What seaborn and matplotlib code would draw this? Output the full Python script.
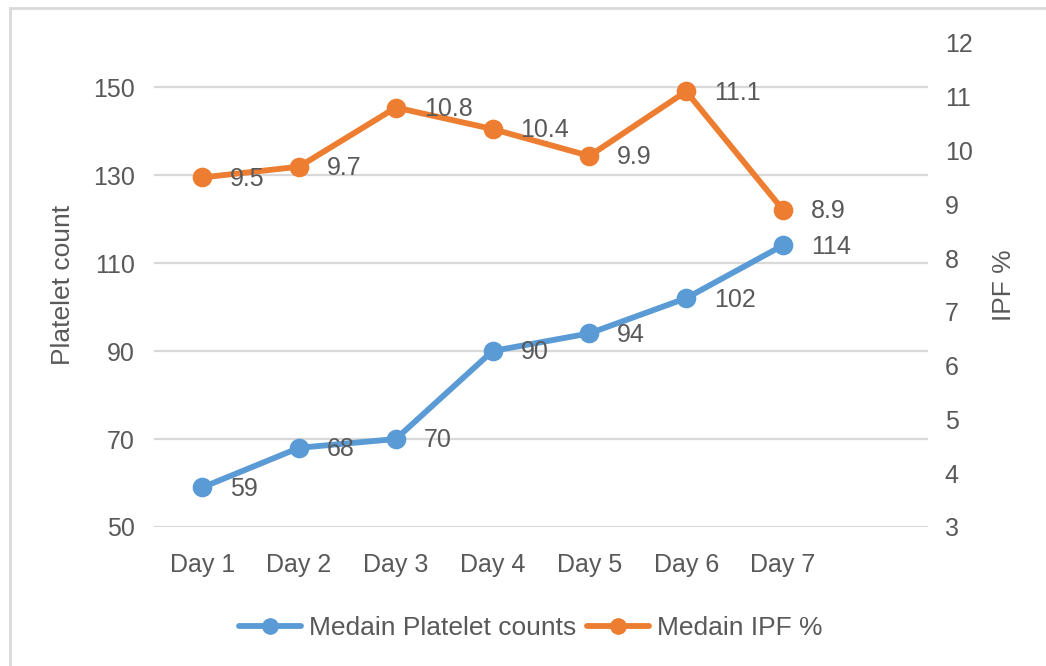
import matplotlib
matplotlib.use("Agg")
import matplotlib.pyplot as plt
import seaborn as sns
from matplotlib.lines import Line2D
from matplotlib.patches import Rectangle

# Data
days = ["Day 1", "Day 2", "Day 3", "Day 4", "Day 5", "Day 6", "Day 7"]
platelet_counts = [59, 68, 70, 90, 94, 102, 114]
ipf_percent = [9.5, 9.7, 10.8, 10.4, 9.9, 11.1, 8.9]
platelet_ticks = [50, 70, 90, 110, 130, 150]
ipf_ticks = [3, 4, 5, 6, 7, 8, 9, 10, 11, 12]

BLUE = "#5B9BD5"
ORANGE = "#ED7D31"
TEXT = "#595959"
GRID = "#D9D9D9"
FS = 18

sns.set_theme(style="white")
plt.rcParams["font.family"] = ["Liberation Sans", "DejaVu Sans"]

fig = plt.figure(figsize=(10.46, 6.66), dpi=100)
ax = fig.add_axes([154 / 1046, 1 - 527 / 666, (928 - 154) / 1046, (527 - 43) / 666])
ax2 = ax.twinx()

# Outer chart frame
fig.patches.append(Rectangle((10 / 1046, -0.05), 1.1, 1 - 8 / 666 + 0.05,
                             transform=fig.transFigure, fill=False,
                             edgecolor="#D9D9D9", linewidth=2, zorder=0))

sns.pointplot(x=days, y=platelet_counts, ax=ax, color=BLUE, markers="o",
              linestyles="-", markersize=11, linewidth=4.2, errorbar=None)
sns.pointplot(x=days, y=ipf_percent, ax=ax2, color=ORANGE, markers="o",
              linestyles="-", markersize=11, linewidth=4.2, errorbar=None)

for i, v in enumerate(platelet_counts):
    ax.annotate(f"{v}", (i, v), xytext=(20, -1), textcoords="offset points",
                ha="left", va="center", fontsize=FS, color=TEXT)
for i, v in enumerate(ipf_percent):
    ax2.annotate(f"{v}", (i, v), xytext=(20, -1), textcoords="offset points",
                 ha="left", va="center", fontsize=FS, color=TEXT)

ax.set_xlim(-0.5, 7.5)
ax.set_ylim(50, 160)
ax2.set_ylim(3, 12)
ax.set_yticks(platelet_ticks)
ax2.set_yticks(ipf_ticks)
ax.grid(axis="y", color=GRID, linewidth=1.6)
ax.grid(axis="x", visible=False)
ax2.grid(False)
ax.set_axisbelow(True)

for a in (ax, ax2):
    for s in a.spines.values():
        s.set_visible(False)
    a.set_facecolor("none")
    a.set_xlabel("")

ax.tick_params(axis="y", length=0, pad=14, labelsize=FS, labelcolor=TEXT)
ax.tick_params(axis="x", length=0, pad=19, labelsize=FS, labelcolor=TEXT)
ax2.tick_params(axis="y", length=0, pad=12, labelsize=FS, labelcolor=TEXT)

ax.set_ylabel("Platelet count", fontsize=FS + 1, color=TEXT, labelpad=13)
ax2.set_ylabel("IPF %", fontsize=FS + 1, color=TEXT, rotation=90, labelpad=14)

handles = [
    Line2D([], [], color=BLUE, marker="o", linewidth=4.2, markersize=11),
    Line2D([], [], color=ORANGE, marker="o", linewidth=4.2, markersize=11),
]
leg = fig.legend(handles, ["Medain Platelet counts", "Medain IPF %"],
                 loc="center", bbox_to_anchor=(531 / 1046, 1 - 628 / 666),
                 ncol=2, frameon=False, fontsize=FS + 1, handlelength=2.35,
                 handletextpad=0.3, columnspacing=0.4)
for t in leg.get_texts():
    t.set_color(TEXT)

fig.savefig("out.png", dpi=100)
